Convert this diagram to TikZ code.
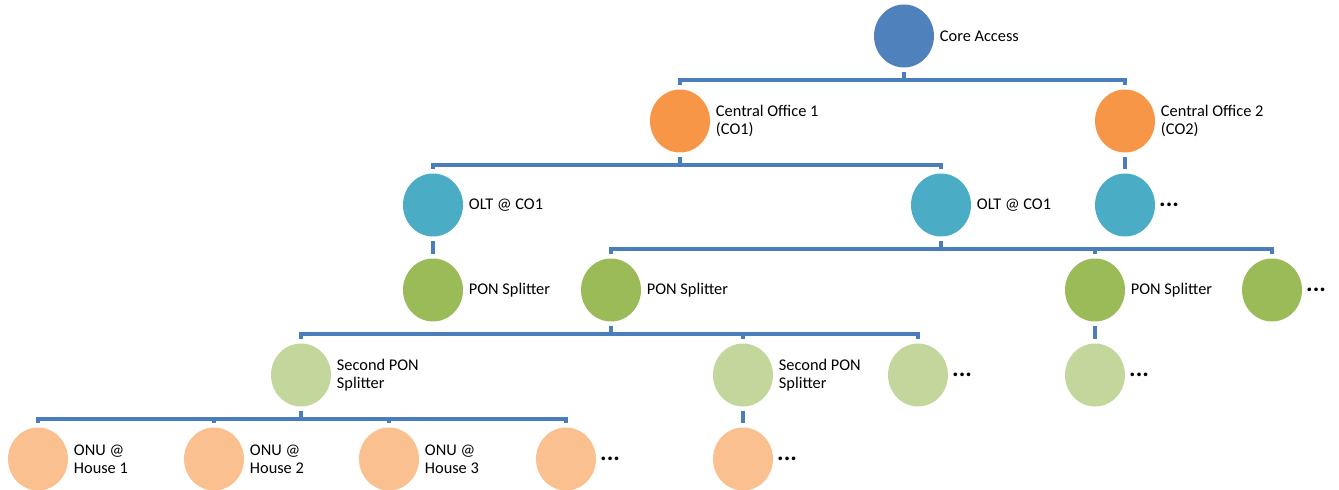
\documentclass[tikz,border=0pt]{standalone}
\usepackage{fontspec}
\setmainfont{Carlito}
\usetikzlibrary{positioning}
\usetikzlibrary{shapes.geometric}
\definecolor{coreblue}{HTML}{4F81BD}
\definecolor{coorange}{HTML}{F79646}
\definecolor{oltteal}{HTML}{4BACC6}
\definecolor{pongreen}{HTML}{9BBB59}
\definecolor{spsgreen}{HTML}{C3D69B}
\definecolor{onuorange}{HTML}{FAC090}
\definecolor{linkblue}{HTML}{4A7EBB}

\begin{document}
\begin{tikzpicture}[x=0.02cm,y=-0.02cm]
\tikzset{
  unit/.style={ellipse,minimum width=1.2cm,minimum height=1.26cm,inner sep=0pt,draw=none},
  lbl/.style={right=3pt,align=left,inner sep=0pt,font=\fontsize{9.3}{10.5}\selectfont},
  more/.style={right=2pt,inner sep=0pt,font=\bfseries\fontsize{14}{14}\selectfont},
  link/.style={linkblue,line width=2.1pt,shorten <=2.5pt,shorten >=2.5pt}
}
\useasboundingbox (0,0) rectangle (1339,490);
%core
\node[unit,fill=coreblue] (core) at (904,36) {};
\node[lbl] at (core.east) {Core Access};
%central offices
\node[unit,fill=coorange] (co1) at (680,121) {};
\node[lbl] at (co1.east) {Central Office 1\\(CO1)};
\node[unit,fill=coorange] (co2) at (1125,121) {};
\node[lbl] at (co2.east) {Central Office 2\\(CO2)};
%OLTs
\node[unit,fill=oltteal] (olt1) at (433,205) {};
\node[lbl] at (olt1.east) {OLT @ CO1};
\node[unit,fill=oltteal] (olt2) at (941,205) {};
\node[lbl] at (olt2.east) {OLT @ CO1};
\node[unit,fill=oltteal] (olt3) at (1125,205) {};
\node[more] at (olt3.east) {...};
%PON splitters
\node[unit,fill=pongreen] (pon1) at (433,290) {};
\node[lbl] at (pon1.east) {PON Splitter};
\node[unit,fill=pongreen] (pon2) at (611,290) {};
\node[lbl] at (pon2.east) {PON Splitter};
\node[unit,fill=pongreen] (pon3) at (1095,290) {};
\node[lbl] at (pon3.east) {PON Splitter};
\node[unit,fill=pongreen] (pon4) at (1272,290) {};
\node[more] at (pon4.east) {...};
%second splitters
\node[unit,fill=spsgreen] (sps1) at (301,375) {};
\node[lbl] at (sps1.east) {Second PON\\Splitter};
\node[unit,fill=spsgreen] (sps2) at (743,375) {};
\node[lbl] at (sps2.east) {Second PON\\Splitter};
\node[unit,fill=spsgreen] (sps3) at (918,375) {};
\node[more] at (sps3.east) {...};
\node[unit,fill=spsgreen] (sps4) at (1095,375) {};
\node[more] at (sps4.east) {...};
%ONUs
\node[unit,fill=onuorange] (onu1) at (38,459) {};
\node[lbl] at (onu1.east) {ONU @\\House 1};
\node[unit,fill=onuorange] (onu2) at (214,459) {};
\node[lbl] at (onu2.east) {ONU @\\House 2};
\node[unit,fill=onuorange] (onu3) at (389,459) {};
\node[lbl] at (onu3.east) {ONU @\\House 3};
\node[unit,fill=onuorange] (onu4) at (566,459) {};
\node[more] at (onu4.east) {...};
\node[unit,fill=onuorange] (onu5) at (743,459) {};
\node[more] at (onu5.east) {...};
%links
\draw[link] (core.south) -- ++(0,12) -| (co1.north);
\draw[link] (core.south) -- ++(0,12) -| (co2.north);
\draw[link] (co1.south) -- ++(0,12) -| (olt1.north);
\draw[link] (co1.south) -- ++(0,12) -| (olt2.north);
\draw[link] (co2.south) -- (olt3.north);
\draw[link] (olt1.south) -- (pon1.north);
\draw[link] (olt2.south) -- ++(0,12) -| (pon2.north);
\draw[link] (olt2.south) -- ++(0,12) -| (pon3.north);
\draw[link] (olt2.south) -- ++(0,12) -| (pon4.north);
\draw[link] (pon2.south) -- ++(0,12) -| (sps1.north);
\draw[link] (pon2.south) -- ++(0,12) -| (sps2.north);
\draw[link] (pon2.south) -- ++(0,12) -| (sps3.north);
\draw[link] (pon3.south) -- (sps4.north);
\draw[link] (sps1.south) -- ++(0,12) -| (onu1.north);
\draw[link] (sps1.south) -- ++(0,12) -| (onu2.north);
\draw[link] (sps1.south) -- ++(0,12) -| (onu3.north);
\draw[link] (sps1.south) -- ++(0,12) -| (onu4.north);
\draw[link] (sps2.south) -- (onu5.north);
\end{tikzpicture}
\end{document}
